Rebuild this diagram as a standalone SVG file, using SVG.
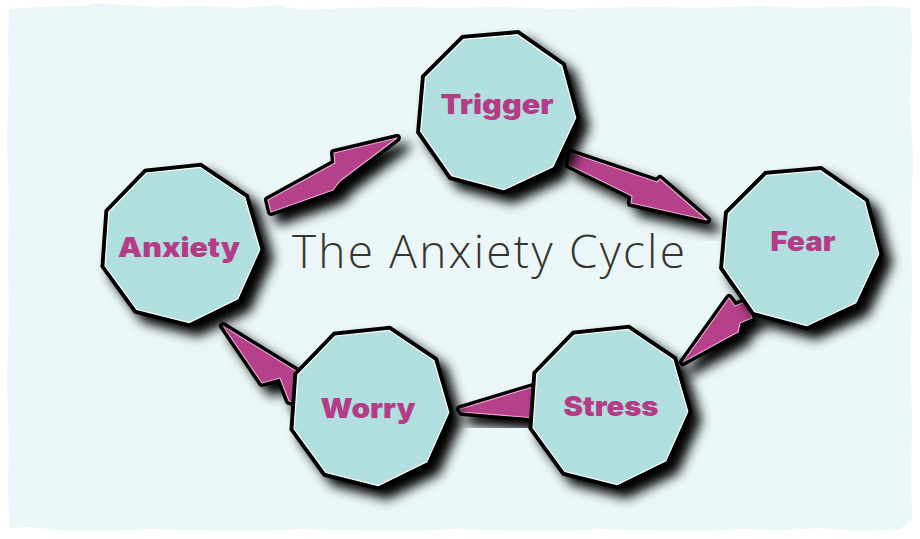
<svg xmlns="http://www.w3.org/2000/svg" xmlns:xlink="http://www.w3.org/1999/xlink" width="920" height="539" viewBox="0 0 920 539">
<defs>
  <polygon id="nona" points="0,79 -50.78,60.52 -77.8,13.72 -68.42,-39.5 -27.02,-74.24 27.02,-74.24 68.42,-39.5 77.8,13.72 50.78,60.52"/>
  <filter id="shadow" x="-30%" y="-30%" width="160%" height="160%">
    <feGaussianBlur in="SourceAlpha" stdDeviation="6"/>
    <feOffset dx="9" dy="9" result="b"/>
    <feComponentTransfer in="b" result="s"><feFuncA type="linear" slope="1"/></feComponentTransfer>
    <feMerge><feMergeNode in="s"/><feMergeNode in="SourceGraphic"/></feMerge>
  </filter>
</defs>
<style>
  .outline { fill: #000; stroke: #000; stroke-width: 9; stroke-linejoin: miter; }
  .face { fill: #B1DEDF; stroke: #FFFFFF; stroke-width: 1.2; }
  .label { font-family: Inter, "Open Sans", "Liberation Sans", sans-serif; font-weight: 900; font-size: 27px; fill: #B43C86; text-anchor: middle; }
  .arrow-out { fill: #000; stroke: #000; stroke-width: 8; stroke-linejoin: round; }
  .arrow-in { fill: #B5418B; stroke: #EBA9D0; stroke-width: 1.2; stroke-linejoin: round; }
  .title { font-family: "Open Sans", "Noto Sans", "Liberation Sans", sans-serif; font-weight: 300; font-size: 46px; fill: #35352D; }
</style>
<rect x="0" y="0" width="920" height="539" fill="#FFFFFF"/>
<path d="M9,9 L40,7 L80,6 L95,3 L120,5 L160,7 L200,6 L240,8 L280,5 L300,10 L350,8 L400,7 L450,8 L500,7 L560,9 L600,8 L650,7 L700,8 L760,6 L800,8 L850,7 L880,6 L910,8 L912,40 L910,100 L913,160 L911,220 L912,300 L910,360 L912,420 L911,480 L912,520 L900,529 L860,531 L820,528 L780,530 L740,529 L700,531 L650,530 L600,529 L560,531 L500,530 L450,529 L400,531 L350,530 L300,529 L250,531 L200,530 L150,529 L100,531 L60,530 L30,527 L10,528 L8,490 L9,440 L7,380 L9,320 L8,260 L9,200 L7,140 L9,80 L8,40 Z" fill="#EAF6F7"/>

<g id="connectors">
  <g filter="url(#shadow)">
    <polygon class="arrow-out" points="268,200 335,163 334,153 397,138 340,181 333,190 271,212"/>
  </g>
  <polygon class="arrow-in" points="268,200 335,163 334,153 397,138 340,181 333,190 271,212"/>
  <g filter="url(#shadow)">
    <polygon class="arrow-out" points="571,153 657,182 660,179 707,220 631,203 632,196 569,165"/>
  </g>
  <polygon class="arrow-in" points="571,153 657,182 660,179 707,220 631,203 632,196 569,165"/>
  <g filter="url(#shadow)">
    <polygon class="arrow-out" points="683,362 729,298 735,306 747,301 752,318 740,323 738,332"/>
  </g>
  <polygon class="arrow-in" points="683,362 729,298 735,306 747,301 752,318 740,323 738,332"/>
  <g filter="url(#shadow)">
    <polygon class="arrow-out" points="460,409 536,386 536,418 462,412"/>
  </g>
  <polygon class="arrow-in" points="460,409 536,386 536,418 462,412"/>
  <g filter="url(#shadow)">
    <polygon class="arrow-out" points="223,326 296,371 296,403 289,401 280,378 262,383"/>
  </g>
  <polygon class="arrow-in" points="223,326 296,371 296,403 289,401 280,378 262,383"/>
</g>

<text class="title" x="292" y="268" textLength="393" lengthAdjust="spacing">The Anxiety Cycle</text>

<g id="node-trigger">
  <g filter="url(#shadow)"><use xlink:href="#nona" class="outline" transform="translate(497,111) rotate(-5)"/></g>
  <use xlink:href="#nona" class="face" transform="translate(497,111) rotate(-5)"/>
  <text class="label" x="497" y="114" textLength="113" lengthAdjust="spacingAndGlyphs">Trigger</text>
</g>
<g id="node-anxiety">
  <g filter="url(#shadow)"><use xlink:href="#nona" class="outline" transform="translate(181,244) rotate(-6)"/></g>
  <use xlink:href="#nona" class="face" transform="translate(181,244) rotate(-6)"/>
  <text class="label" x="179" y="257" textLength="122" lengthAdjust="spacingAndGlyphs">Anxiety</text>
</g>
<g id="node-fear">
  <g filter="url(#shadow)"><use xlink:href="#nona" class="outline" transform="translate(800,247) rotate(-5)"/></g>
  <use xlink:href="#nona" class="face" transform="translate(800,247) rotate(-5)"/>
  <text class="label" x="803" y="251" textLength="65" lengthAdjust="spacingAndGlyphs">Fear</text>
</g>
<g id="node-stress">
  <g filter="url(#shadow)"><use xlink:href="#nona" class="outline" transform="translate(609,406) rotate(-6)"/></g>
  <use xlink:href="#nona" class="face" transform="translate(609,406) rotate(-6)"/>
  <text class="label" x="611" y="416" textLength="95" lengthAdjust="spacingAndGlyphs">Stress</text>
</g>
<g id="node-worry">
  <g filter="url(#shadow)"><use xlink:href="#nona" class="outline" transform="translate(370,407) rotate(-6)"/></g>
  <use xlink:href="#nona" class="face" transform="translate(370,407) rotate(-6)"/>
  <text class="label" x="368" y="418" textLength="95" lengthAdjust="spacingAndGlyphs">Worry</text>
</g>
</svg>
